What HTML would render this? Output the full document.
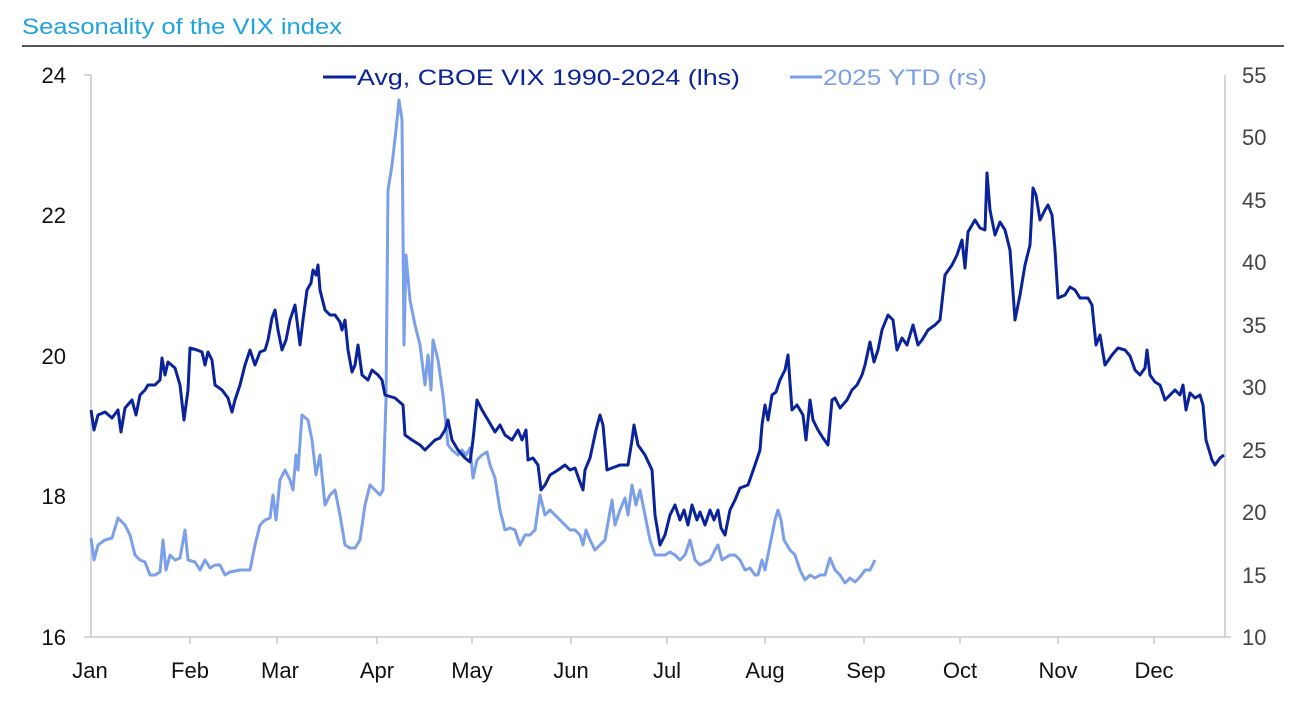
<!DOCTYPE html>
<html><head><meta charset="utf-8"><style>
body{margin:0;background:#fff;width:1307px;height:700px;overflow:hidden;font-family:"Liberation Sans",sans-serif}
</style></head><body>
<svg width="1307" height="700" xmlns="http://www.w3.org/2000/svg" font-family="Liberation Sans, sans-serif">
<text x="22" y="34" font-size="22" fill="#1ea3dc" textLength="320" lengthAdjust="spacingAndGlyphs">Seasonality of the VIX index</text>
<line x1="22" y1="46" x2="1284" y2="46" stroke="#555" stroke-width="2"/>
<g stroke="#c8c8c8" stroke-width="1.5" fill="none">
<line x1="91" y1="75" x2="91" y2="637"/><line x1="84" y1="75" x2="91" y2="75"/>
<line x1="1225" y1="75" x2="1225" y2="637"/>
<line x1="84" y1="637" x2="1231" y2="637"/>
<path d="M190 637v7M277 637v7M377 637v7M472 637v7M571 637v7M667 637v7M765 637v7M864 637v7M960 637v7M1058 637v7M1154 637v7"/>
</g>
<g font-size="22" fill="#111" text-anchor="end">
<text x="66" y="83">24</text><text x="66" y="223">22</text><text x="66" y="364">20</text><text x="66" y="504">18</text><text x="66" y="645">16</text>
</g>
<g font-size="22" fill="#444">
<text x="1242" y="83">55</text><text x="1242" y="145">50</text><text x="1242" y="208">45</text><text x="1242" y="270">40</text><text x="1242" y="333">35</text><text x="1242" y="395">30</text><text x="1242" y="458">25</text><text x="1242" y="520">20</text><text x="1242" y="583">15</text><text x="1242" y="645">10</text>
</g>
<g font-size="22" fill="#111" text-anchor="middle">
<text x="90" y="678">Jan</text><text x="190" y="678">Feb</text><text x="280" y="678">Mar</text><text x="377" y="678">Apr</text><text x="472" y="678">May</text><text x="571" y="678">Jun</text><text x="667" y="678">Jul</text><text x="765" y="678">Aug</text><text x="866" y="678">Sep</text><text x="960" y="678">Oct</text><text x="1058" y="678">Nov</text><text x="1154" y="678">Dec</text>
</g>
<line x1="323" y1="77" x2="356" y2="77" stroke="#0a239b" stroke-width="3"/>
<text x="357" y="85" font-size="22" fill="#0a239b" textLength="383" lengthAdjust="spacingAndGlyphs">Avg, CBOE VIX 1990-2024 (lhs)</text>
<line x1="790" y1="77" x2="822" y2="77" stroke="#7b9fe8" stroke-width="3"/>
<text x="823" y="85" font-size="22" fill="#7b9fe8" textLength="164" lengthAdjust="spacingAndGlyphs">2025 YTD (rs)</text>
<polyline fill="none" stroke="#7b9fe8" stroke-width="3" stroke-linejoin="round" points="91,538 94,560 98,545 105,540 112,538 118,518 125,525 130,535 135,555 140,560 145,562 150,575 155,575 160,572 163,540 166,570 170,555 175,560 180,558 185,530 188,560 195,562 200,570 205,560 210,568 215,565 220,565 225,575 230,572 240,570 250,570 255,545 260,525 265,520 270,518 273,495 276,520 280,480 285,470 290,480 293,490 296,455 298,470 302,415 308,420 312,440 316,475 320,455 325,505 330,495 335,490 340,515 345,545 350,548 355,548 360,540 365,505 370,485 375,490 380,495 383,490 386,400 388,190 392,165 396,130 399,100 402,120 404,345 406,255 410,300 415,325 420,345 425,385 428,355 431,390 433,340 438,360 443,395 448,445 452,450 458,455 462,450 466,455 470,448 473,478 477,460 482,455 487,452 490,465 495,478 500,510 505,530 510,528 515,530 520,545 525,535 530,535 535,530 540,495 545,515 550,510 560,520 565,525 570,530 575,530 580,535 583,545 586,530 590,540 595,550 600,545 605,540 612,500 615,525 620,510 625,498 628,515 632,485 636,505 640,490 645,515 650,540 655,555 665,555 670,552 675,555 680,560 685,555 690,540 695,560 700,565 710,560 715,550 718,545 722,560 730,555 735,555 740,560 745,570 750,568 755,575 758,575 762,560 765,570 770,545 775,520 778,510 781,520 784,540 790,550 795,555 800,570 805,580 810,575 815,578 820,575 825,575 830,558 835,570 840,575 845,583 850,578 855,582 860,577 865,570 870,570 875,560"/>
<polyline fill="none" stroke="#0a239b" stroke-width="3" stroke-linejoin="round" points="91,410 94,430 98,415 105,412 112,418 118,410 121,432 125,408 132,400 136,415 140,395 145,390 148,385 155,385 160,380 162,358 165,375 168,362 175,368 180,385 184,420 188,390 190,348 197,350 202,352 205,365 208,352 212,360 215,385 222,390 228,398 232,412 235,400 240,385 245,365 250,350 255,365 260,352 265,350 268,340 272,318 275,310 278,330 282,350 286,340 290,320 295,305 300,345 303,320 307,290 311,283 313,270 316,275 318,265 320,290 325,310 330,315 335,315 340,322 342,330 345,320 348,350 352,372 355,365 358,345 362,375 368,380 372,370 378,375 382,380 385,395 395,398 403,405 405,435 412,440 420,445 425,450 430,445 435,440 440,438 445,430 448,420 452,440 458,450 465,458 470,462 473,440 477,400 482,410 488,420 495,432 500,425 505,435 512,440 518,430 522,440 526,430 528,460 533,458 538,465 541,490 545,485 550,475 558,470 565,465 570,470 575,468 580,482 583,490 585,470 590,458 596,430 600,415 603,425 607,470 612,468 620,465 628,465 632,440 634,425 638,445 645,455 652,470 655,515 660,545 665,535 670,515 675,505 680,520 684,510 688,525 692,505 697,520 700,512 705,525 710,510 714,520 718,510 721,528 725,535 730,510 735,500 740,488 748,485 755,465 760,450 762,425 765,405 768,420 772,395 776,392 780,380 785,370 788,355 792,410 797,405 803,415 806,440 810,400 813,420 818,430 823,438 828,445 832,400 835,398 840,408 847,400 852,390 857,385 862,375 865,365 870,342 874,362 878,350 882,330 888,315 893,320 897,350 902,338 907,345 913,325 918,345 922,340 928,330 935,325 940,320 945,275 952,265 957,255 962,240 965,268 968,232 975,220 980,228 985,230 987,173 990,210 995,235 1000,222 1005,230 1010,250 1015,320 1020,295 1025,265 1030,245 1033,188 1036,195 1040,220 1045,210 1048,205 1052,215 1055,250 1058,298 1065,295 1070,287 1075,290 1080,298 1088,298 1092,305 1096,345 1100,335 1105,365 1112,355 1118,348 1125,350 1130,356 1135,370 1140,375 1145,368 1147,350 1150,375 1155,382 1160,385 1165,400 1170,395 1175,390 1180,395 1183,385 1186,410 1190,393 1195,398 1200,395 1203,405 1206,440 1212,460 1215,465 1220,458 1224,455"/>
</svg>
</body></html>
